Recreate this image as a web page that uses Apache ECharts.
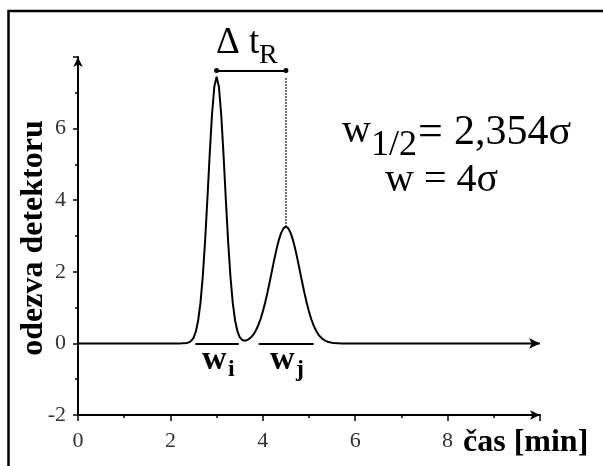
<!DOCTYPE html>
<html>
<head>
<meta charset="utf-8">
<script src="https://cdn.jsdelivr.net/npm/echarts@6/dist/echarts.min.js"></script>
<style>
  html, body { margin: 0; padding: 0; background: #fff; }
  #chart { width: 603px; height: 466px; }
</style>
</head>
<body>
<div id="chart"></div>
<script>
// retention time [min] and detector response
const time = [0, 2.2, 2.25, 2.3, 2.35, 2.4, 2.45, 2.5, 2.55, 2.6, 2.65, 2.7, 2.75, 2.8, 2.85, 2.9, 2.95,
  3.0, 3.05, 3.1, 3.15, 3.2, 3.25, 3.3, 3.35, 3.4, 3.45, 3.5, 3.55, 3.6, 3.65, 3.7, 3.75, 3.8, 3.85, 3.9, 3.95,
  4.0, 4.05, 4.1, 4.15, 4.2, 4.25, 4.3, 4.35, 4.4, 4.45, 4.5, 4.55, 4.6, 4.65, 4.7, 4.75, 4.8, 4.85, 4.9, 4.95,
  5.0, 5.05, 5.1, 5.15, 5.2, 5.25, 5.3, 5.35, 5.4, 5.45, 5.5, 5.55, 5.6, 5.65, 5.7, 10];
const response = [0, 0, 0.001, 0.004, 0.011, 0.029, 0.07, 0.157, 0.327, 0.631, 1.125, 1.858, 2.84, 4.02, 5.265, 6.385, 7.168,
  7.45, 7.168, 6.385, 5.265, 4.02, 2.84, 1.86, 1.13, 0.64, 0.34, 0.175, 0.1, 0.077, 0.087, 0.121, 0.176, 0.255, 0.362, 0.501, 0.675,
  0.888, 1.137, 1.418, 1.724, 2.041, 2.355, 2.648, 2.9, 3.095, 3.218, 3.26, 3.218, 3.095, 2.9, 2.648, 2.355, 2.041, 1.724, 1.418, 1.137,
  0.888, 0.675, 0.501, 0.362, 0.255, 0.176, 0.117, 0.076, 0.048, 0.03, 0.018, 0.01, 0.006, 0.003, 0, 0];

const peakTime = [3.0, 4.5];
const peakHeight = [7.45, 3.26];
const baseStart = [2.54, 3.91];   // w_i, w_j markers on the baseline
const baseEnd = [3.48, 5.1];
const deltaLevel = 7.62;          // height of the Δt_R bracket

const xTickLabels = [0, 2, 4, 6, 8];
const yTickLabels = [-2, 0, 2, 4, 6];

const serif = '"Liberation Serif", "DejaVu Serif", serif';

const chart = echarts.init(document.getElementById('chart'));

const seriesData = time.map((t, i) => {
  if (i === time.length - 1) {
    return { value: [t, response[i]], symbol: 'arrow', symbolSize: [8, 11], symbolRotate: -90 };
  }
  return [t, response[i]];
});

function txt(x, y, text, font) {
  return { type: 'text', x: x, y: y,
    style: { text: text, font: font, fill: '#000', align: 'left', verticalAlign: 'middle' } };
}

const option = {
  animation: false,
  backgroundColor: '#fff',
  grid: { left: 78, right: 63, top: 57, bottom: 51 },
  xAxis: {
    type: 'value',
    min: 0, max: 10, interval: 2,
    axisLine: {
      onZero: false,
      symbol: ['none', 'arrow'], symbolSize: [7, 10],
      lineStyle: { color: '#000', width: 2 }
    },
    axisTick: { length: 6, lineStyle: { color: '#000', width: 1.5 } },
    minorTick: { show: true, splitNumber: 2, length: 3, lineStyle: { color: '#000', width: 1.5 } },
    axisLabel: {
      margin: 15, color: '#333', fontFamily: serif, fontSize: 22,
      formatter: v => xTickLabels.includes(v) ? String(v) : ''
    },
    splitLine: { show: false }
  },
  yAxis: {
    type: 'value',
    min: -2, max: 8, interval: 2,
    axisLine: {
      onZero: false,
      symbol: ['none', 'arrow'], symbolSize: [7, 10],
      lineStyle: { color: '#000', width: 2 }
    },
    axisTick: { length: 5, lineStyle: { color: '#000', width: 1.5 } },
    minorTick: { show: true, splitNumber: 2, length: 3, lineStyle: { color: '#000', width: 1.5 } },
    axisLabel: {
      margin: 12, color: '#333', fontFamily: serif, fontSize: 22,
      formatter: v => yTickLabels.includes(v) ? String(v) : ''
    },
    splitLine: { show: false }
  },
  series: [
    {
      type: 'line',
      data: seriesData,
      symbol: 'none',
      showSymbol: true,
      lineStyle: { color: '#000', width: 2 },
      itemStyle: { color: '#000' },
      markLine: {
        silent: true,
        symbol: ['none', 'none'],
        label: { show: false },
        lineStyle: { color: '#000', width: 2, type: 'solid' },
        data: [
          [
            { coord: [peakTime[0], deltaLevel], symbol: 'circle', symbolSize: 5 },
            { coord: [peakTime[1], deltaLevel], symbol: 'circle', symbolSize: 5 }
          ],
          [
            { coord: [peakTime[1], peakHeight[1]], lineStyle: { type: 'dotted', width: 1.5 } },
            { coord: [peakTime[1], peakHeight[0]] }
          ],
          [{ coord: [baseStart[0], 0] }, { coord: [baseEnd[0], 0] }],
          [{ coord: [baseStart[1], 0] }, { coord: [baseEnd[1], 0] }]
        ]
      }
    }
  ],
  graphic: [
    { type: 'rect', shape: { x: 8.5, y: 11, width: 640, height: 500 }, style: { fill: 'none', stroke: '#000', lineWidth: 2.5 }, silent: true },
    { type: 'text', x: 34, y: 238, rotation: Math.PI / 2,
      style: { text: 'odezva detektoru', font: 'bold 32px ' + serif, fill: '#000', align: 'center', verticalAlign: 'middle' } },
    txt(463, 443, 'čas [min]', 'bold 32px ' + serif),
    txt(216, 43, 'Δ t', '37px ' + serif),
    txt(259, 56, 'R', '28px ' + serif),
    txt(342, 131, 'w', '40px ' + serif),
    txt(371, 146, '1/2', '36px ' + serif),
    txt(418, 133, '=', '44px ' + serif),
    txt(454, 133, '2,354σ', '42px ' + serif),
    txt(385, 180, 'w = 4σ', '40px ' + serif),
    txt(202, 360, 'w', 'bold 34px ' + serif),
    txt(228, 370, 'i', 'bold 24px ' + serif),
    txt(270, 360, 'w', 'bold 34px ' + serif),
    txt(296, 370, 'j', 'bold 24px ' + serif)
  ]
};

chart.setOption(option);
</script>
</body>
</html>
